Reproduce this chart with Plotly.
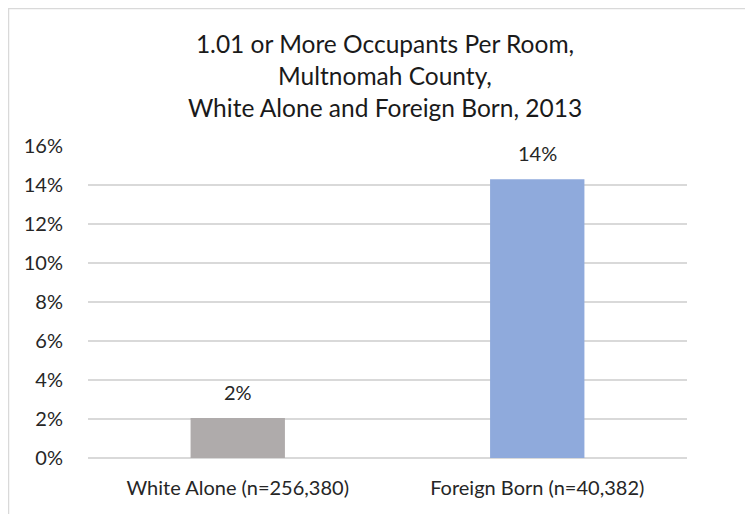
import plotly.graph_objects as go

categories = ["White Alone (n=256,380)", "Foreign Born (n=40,382)"]
values = [0.0205, 0.143]
labels = ["2%", "14%"]
colors = ["#AFABAB", "#8FAADC"]
tick_vals = [0, 0.02, 0.04, 0.06, 0.08, 0.10, 0.12, 0.14, 0.16]
tick_text = ["0%", "2%", "4%", "6%", "8%", "10%", "12%", "14%", "16%"]

FONT = "Lato, 'Open Sans', sans-serif"

# page body adds an 8px offset; compensate
OFF = 8
W, H = 753 - OFF, 514 - OFF
L, R, T, B = 88 - OFF, 74 - OFF, 146 - OFF, 56
pw, ph = W - L - R, H - T - B

fig = go.Figure()
fig.add_trace(go.Bar(
    x=categories, y=values, marker_color=colors, marker_line_width=0,
    hoverinfo="skip",
))

for c, v, t in zip(categories, values, labels):
    fig.add_annotation(x=c, y=v, text=t, showarrow=False, yanchor="bottom",
                       yshift=12, font=dict(size=20, color="#262626", family=FONT))

fig.add_shape(type="rect", xref="paper", yref="paper",
              x0=(0.5 - L) / pw, x1=1 + (R + 20) / pw,
              y0=-(B + 20) / ph, y1=1 + (T - 0.5) / ph,
              line=dict(color="#D9D9D9", width=1.5), fillcolor="rgba(0,0,0,0)", layer="below")

fig.update_layout(
    width=W, height=H,
    margin=dict(l=L, r=R, t=T, b=B),
    paper_bgcolor="white", plot_bgcolor="white",
    bargap=0.685,
    showlegend=False,
    font=dict(family=FONT, color="#404040", size=20),
    title=dict(
        text="1.01 or More Occupants Per Room,<br>Multnomah County,<br>White Alone and Foreign Born, 2013",
        x=(385 - OFF) / W, xanchor="center", y=1 - 45 / H, yanchor="top",
        font=dict(size=24.5, color="#1a1a1a", family=FONT),
    ),
    xaxis=dict(showline=False, ticks="", tickfont=dict(size=20, color="#262626"),
               showgrid=False, ticklabelstandoff=16, automargin=False),
    yaxis=dict(range=[0, 0.16], tickvals=tick_vals, ticktext=tick_text,
               showgrid=True, gridcolor="#D9D9D9", gridwidth=1.5, zeroline=True,
               zerolinecolor="#D9D9D9", zerolinewidth=1.5, automargin=False,
               ticks="", tickfont=dict(size=20, color="#262626"), ticklabelstandoff=24),
)

fig.write_html("out.html")
